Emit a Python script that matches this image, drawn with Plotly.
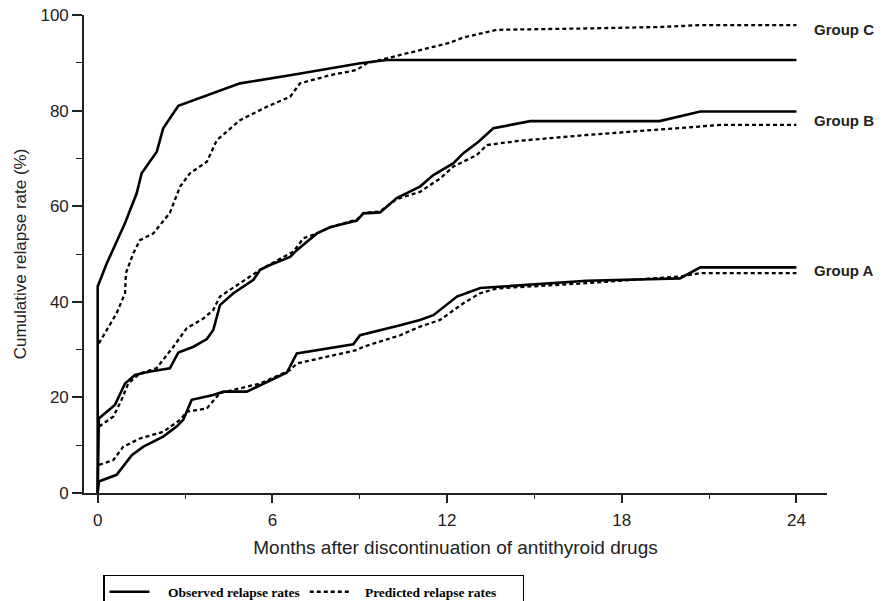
import plotly.graph_objects as go

# ---- data (months, cumulative relapse rate %) ----
c_obs_x = [0, 0, 0.31, 0.94, 1.34, 1.51, 2.03, 2.25, 2.77, 4.89, 6.61, 9.02, 9.93, 24]
c_obs_y = [0, 43.2, 48, 56.5, 62.7, 66.9, 71.4, 76.3, 81, 85.7, 87.4, 89.9, 90.6, 90.6]

c_pred_x = [0.04, 0.65, 0.94, 0.97, 1.22, 1.45, 1.91, 2.48, 2.83, 3.17, 3.75, 4.09, 4.89, 5.81,
            6.61, 6.95, 7.98, 8.9, 9.24, 10.16, 11.19, 12.1, 12.56, 13.37, 13.71, 16.9, 19.4, 20.7, 24]
c_pred_y = [31.3, 37.6, 41.8, 46, 50.1, 52.9, 54.3, 58.6, 64.1, 66.9, 69.3, 73.8, 78, 80.8,
            82.9, 85.7, 87.4, 88.5, 89.9, 91.3, 92.8, 94.2, 95.3, 96.5, 96.9, 97.2, 97.5, 97.9, 97.9]

b_obs_x = [0, 0.04, 0.59, 0.94, 1.28, 1.8, 2.48, 2.77, 3.29, 3.75, 3.97, 4.2, 4.66, 5.35, 5.58,
           5.92, 6.61, 6.84, 7.53, 7.98, 8.9, 9.13, 9.7, 10.27, 11.07, 11.53, 12.22, 12.56,
           13.08, 13.59, 14.86, 19.3, 20.7, 24]
b_obs_y = [0, 15.6, 18.4, 22.9, 24.7, 25.4, 26.1, 29.4, 30.6, 32.2, 34.1, 39.3, 41.8, 44.6, 46.7,
           47.7, 49.4, 50.8, 54.3, 55.6, 57, 58.5, 58.7, 61.7, 64.1, 66.5, 69, 71.1,
           73.5, 76.3, 77.8, 77.8, 79.8, 79.8]

b_pred_x = [0.05, 0.54, 0.82, 1.05, 1.45, 2.02, 2.6, 3.06, 3.63, 3.97, 4.2, 5.23, 5.58, 6.72,
            7.07, 7.53, 7.98, 8.9, 9.13, 9.7, 10.27, 11.07, 11.76, 12.22, 13.02, 13.37, 14.51,
            16.8, 19.1, 21.4, 24]
b_pred_y = [13.9, 16, 19.5, 22.9, 25, 26.1, 30.6, 34.5, 36.5, 38.3, 41.1, 45.3, 46.7, 50.5,
            53.3, 54.3, 55.6, 57.2, 58.6, 58.9, 61.5, 63, 65.8, 68.3, 70.7, 72.8, 73.7,
            74.9, 75.9, 77, 77]

a_obs_x = [0, 0.04, 0.65, 1.17, 1.57, 2.25, 2.71, 2.94, 3.23, 3.97, 4.32, 5.12, 6.5, 6.84, 8.78,
           9.01, 10.39, 11.07, 11.53, 11.76, 12.34, 13.14, 16.8, 20.0, 20.7, 24]
a_obs_y = [0, 2.4, 3.8, 7.9, 9.7, 11.8, 13.9, 15.3, 19.5, 20.5, 21.2, 21.2, 25.2, 29.2, 31.1,
           33, 35.1, 36.2, 37.2, 38.3, 41.1, 42.9, 44.4, 44.9, 47.2, 47.2]

a_pred_x = [0.05, 0.54, 0.88, 1.45, 2.25, 2.83, 3.06, 3.75, 4.2, 5.58, 6.61, 6.84, 8.9, 9.13,
            10.39, 11.07, 11.76, 12.56, 13.14, 13.71, 16.8, 20.0, 20.7, 24]
a_pred_y = [5.9, 6.9, 9.7, 11.4, 12.8, 15.3, 17, 17.7, 20.9, 22.9, 25.7, 27.1, 29.9, 30.6,
            33, 34.8, 36.2, 39.7, 41.8, 42.8, 43.9, 45.3, 46, 46]

group_names = ["Group C", "Group B", "Group A"]
group_label_y = [96.9, 78, 46.5]

x_ticks = [0, 6, 12, 18, 24]
y_ticks = [0, 20, 40, 60, 80, 100]

obs_name = "Observed relapse rates"
pred_name = "Predicted relapse rates"

solid = dict(color="black", width=2.6)
dashed = dict(color="black", width=2.3, dash="4px,3px")

NB = "\u00a0"

fig = go.Figure()
fig.add_trace(go.Scatter(x=c_obs_x, y=c_obs_y, mode="lines", line=solid, name=NB * 4 + obs_name, showlegend=True))
fig.add_trace(go.Scatter(x=c_pred_x, y=c_pred_y, mode="lines", line=dashed, name=NB * 3 + pred_name + NB * 6, showlegend=True))
fig.add_trace(go.Scatter(x=b_obs_x, y=b_obs_y, mode="lines", line=solid, name=obs_name, showlegend=False))
fig.add_trace(go.Scatter(x=b_pred_x, y=b_pred_y, mode="lines", line=dashed, name=pred_name, showlegend=False))
fig.add_trace(go.Scatter(x=a_obs_x, y=a_obs_y, mode="lines", line=solid, name=obs_name, showlegend=False))
fig.add_trace(go.Scatter(x=a_pred_x, y=a_pred_y, mode="lines", line=dashed, name=pred_name, showlegend=False))

for name, yv in zip(group_names, group_label_y):
    fig.add_annotation(x=24, y=yv, xref="x", yref="y", text=name, showarrow=False,
                       xanchor="left", yanchor="middle", xshift=16,
                       font=dict(family="Liberation Sans", size=15, color="#222", weight="bold"))

axis_font = dict(family="Liberation Sans", size=17, color="#222")

fig.update_layout(
    width=883, height=601,
    margin=dict(l=84, r=56, t=15, b=108, autoexpand=False),
    plot_bgcolor="white", paper_bgcolor="white",
    font=axis_font,
    showlegend=True,
    legend=dict(orientation="h", x=0.0256, y=-0.1715, xanchor="left", yanchor="top",
                bordercolor="black", borderwidth=1.5, bgcolor="white",
                font=dict(family="Liberation Serif", size=13.5, color="black", weight="bold"),
                itemwidth=40, tracegroupgap=0),
    xaxis=dict(range=[-0.47, 25.05], tickvals=x_ticks, ticks="outside", ticklen=8,
               tickwidth=1.5, tickcolor="#222", showline=True, linewidth=1.6, linecolor="#222",
               showgrid=False, zeroline=False, tickfont=axis_font, ticklabelstandoff=3,
               minor=dict(dtick=3, ticks="outside", ticklen=4, tickwidth=1.2, tickcolor="#222", showgrid=False),
               title=dict(text="Months after discontinuation of antithyroid drugs",
                          font=dict(family="Liberation Sans", size=19, color="#222"), standoff=11)),
    yaxis=dict(range=[0, 100], tickvals=y_ticks, ticks="outside", ticklen=10,
               tickwidth=1.5, tickcolor="#222", showline=True, linewidth=1.6, linecolor="#222",
               showgrid=False, zeroline=False, tickfont=axis_font,
               minor=dict(dtick=10, ticks="outside", ticklen=6, tickwidth=1.2, tickcolor="#222", showgrid=False),
               title=dict(text="Cumulative relapse rate (%)",
                          font=dict(family="Liberation Sans", size=17, color="#222"), standoff=9)),
)

fig.write_html("out.html", config={"displayModeBar": False},
               post_script="document.body.style.margin='0px';document.body.style.overflow='hidden';")
